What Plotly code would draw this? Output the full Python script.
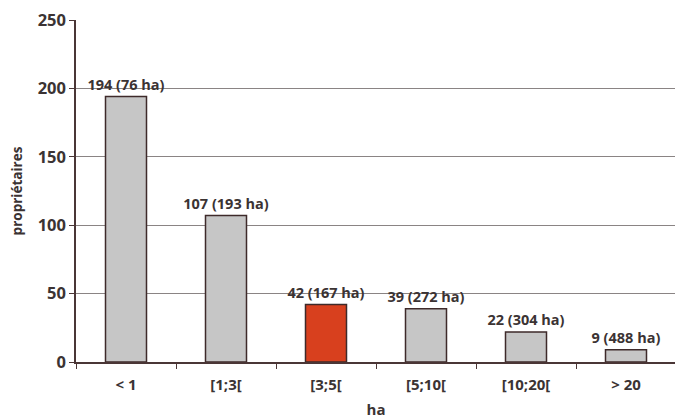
import plotly.graph_objects as go

categories = ["< 1", "[1;3[", "[3;5[", "[5;10[", "[10;20[", "> 20"]
owners = [194, 107, 42, 39, 22, 9]
areas_ha = [76, 193, 167, 272, 304, 488]
highlight = "[3;5["

labels = [f"{n} ({a} ha)" for n, a in zip(owners, areas_ha)]
colors = ["#d8401e" if c == highlight else "#c6c6c6" for c in categories]

font_fam = "Open Sans, Noto Sans, DejaVu Sans, sans-serif"
txt_col = "#3b3333"

fig = go.Figure(go.Bar(
    x=categories, y=owners, text=labels, textposition="outside",
    cliponaxis=False, constraintext="none",
    marker=dict(color=colors, line=dict(color="#3e2a2a", width=1.5)),
    width=0.41,
    textfont=dict(family=font_fam, size=14.5, color=txt_col, weight="bold"),
))

fig.update_layout(
    width=675, height=412,
    margin=dict(l=68, r=7, t=12, b=58),
    paper_bgcolor="white", plot_bgcolor="white",
    showlegend=False,
    font=dict(family=font_fam, color=txt_col, size=13),
)
fig.update_xaxes(
    automargin=False,
    showline=True, linecolor="#4a3636", linewidth=1.5,
    ticks="outside", tickcolor="#4a3636", ticklen=5,
    tickson="boundaries", ticklabelstandoff=8,
    tickfont=dict(family=font_fam, size=15, color=txt_col, weight="bold"),
    title=dict(text="ha", font=dict(family=font_fam, size=15, color=txt_col, weight="bold"), standoff=12),
)
fig.update_yaxes(
    automargin=False, ticklabeloverflow="allow",
    range=[0, 250], dtick=50,
    showline=True, linecolor="#4a3636", linewidth=1.5,
    ticks="outside", tickcolor="#4a3636", ticklen=5,
    showgrid=True, gridcolor="#8a8484", gridwidth=1,
    zeroline=False,
    tickfont=dict(family=font_fam, size=16.5, color=txt_col, weight="bold"),
    title=dict(text="propriétaires", font=dict(family=font_fam, size=13.5, color=txt_col, weight="bold"), standoff=14),
)

fig.write_html("out.html")
